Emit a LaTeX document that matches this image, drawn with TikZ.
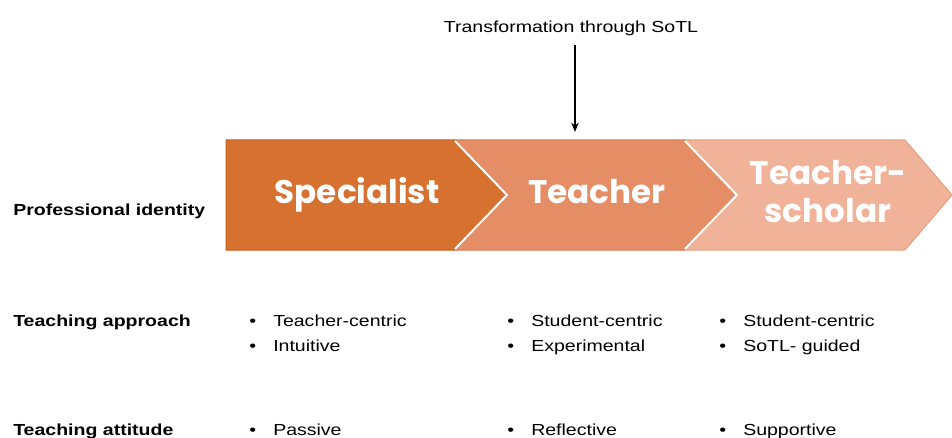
\documentclass[tikz,border=0pt]{standalone}
\usepackage{fontspec}
\setmainfont{Liberation Sans}[FakeStretch=1.22]
\newfontfamily\chevfont{Poppins}
\usetikzlibrary{arrows.meta}
\definecolor{chevA}{RGB}{214,113,48}
\definecolor{chevAline}{RGB}{196,92,30}
\definecolor{chevB}{RGB}{229,142,102}
\definecolor{chevBline}{RGB}{216,120,78}
\definecolor{chevC}{RGB}{240,178,152}
\definecolor{chevCline}{RGB}{230,158,128}

\begin{document}
\begin{tikzpicture}[x=0.75pt,y=0.75pt,yscale=-1,xscale=1,
  rowlabel/.style={anchor=base west,inner sep=0,font=\fontsize{12}{14}\selectfont\bfseries},
  entry/.style={anchor=base west,inner sep=0,font=\fontsize{12}{14}\selectfont},
  chevtext/.style={text=white,inner sep=0,align=center,font=\chevfont\bfseries\fontsize{24.5}{28.5}\selectfont}]
\useasboundingbox (0,0) rectangle (952,438);

%Shape: Chevron [id:specialist]
\draw [fill=chevA, draw=chevAline, line width=0.75] (226,140) -- (455,140) -- (507,195) -- (455,250) -- (226,250) -- cycle ;
%Shape: Chevron [id:teacher]
\draw [fill=chevB, draw=chevBline, line width=0.75] (455,140) -- (685,140) -- (737,195) -- (685,250) -- (455,250) -- (507,195) -- cycle ;
%Shape: Chevron [id:scholar]
\draw [fill=chevC, draw=chevCline, line width=0.75] (685,140) -- (905,140) -- (952,195) -- (905,250) -- (685,250) -- (737,195) -- cycle ;
%Straight Lines [id:sep1]
\draw [white, line width=1.5] (455,141) -- (507,195) -- (455,249) ;
%Straight Lines [id:sep2]
\draw [white, line width=1.5] (685,141) -- (737,195) -- (685,249) ;

% Text Node
\node (spec) at (357,204) [chevtext, anchor=base] {Specialist};
% Text Node
\node (teach) at (597,204) [chevtext, anchor=base] {Teacher};
% Text Node
\node (schol) at (828,223) [chevtext, anchor=base] {Teacher-\\scholar};

% Text Node
\node (title) at (571,33) [entry, anchor=base] {Transformation through SoTL};
\coordinate (arrowstart) at (575,45);
\coordinate (arrowend) at (575,132);
%Straight Lines [id:transform]
\draw [-{Stealth[length=7pt,width=5.5pt]}, line width=1.6] (arrowstart) -- (arrowend) ;

% Text Node
\node (identity) at (13,216) [rowlabel] {Professional identity};
% Text Node
\node (approach) at (13,326) [rowlabel] {Teaching approach};
% Text Node
\node (attitude) at (13,435) [rowlabel] {Teaching attitude};

% Text Node
\node (appA1) at (249,326) [entry] {\makebox[18pt][l]{\textbullet}Teacher-centric};
% Text Node
\node (appA2) at (249,351) [entry] {\makebox[18pt][l]{\textbullet}Intuitive};
% Text Node
\node (appB1) at (507,326) [entry] {\makebox[18pt][l]{\textbullet}Student-centric};
% Text Node
\node (appB2) at (507,351) [entry] {\makebox[18pt][l]{\textbullet}Experimental};
% Text Node
\node (appC1) at (719,326) [entry] {\makebox[18pt][l]{\textbullet}Student-centric};
% Text Node
\node (appC2) at (719,351) [entry] {\makebox[18pt][l]{\textbullet}SoTL- guided};

% Text Node
\node (attA) at (249,435) [entry] {\makebox[18pt][l]{\textbullet}Passive};
% Text Node
\node (attB) at (507,435) [entry] {\makebox[18pt][l]{\textbullet}Reflective};
% Text Node
\node (attC) at (719,435) [entry] {\makebox[18pt][l]{\textbullet}Supportive};

\end{tikzpicture}
\end{document}
